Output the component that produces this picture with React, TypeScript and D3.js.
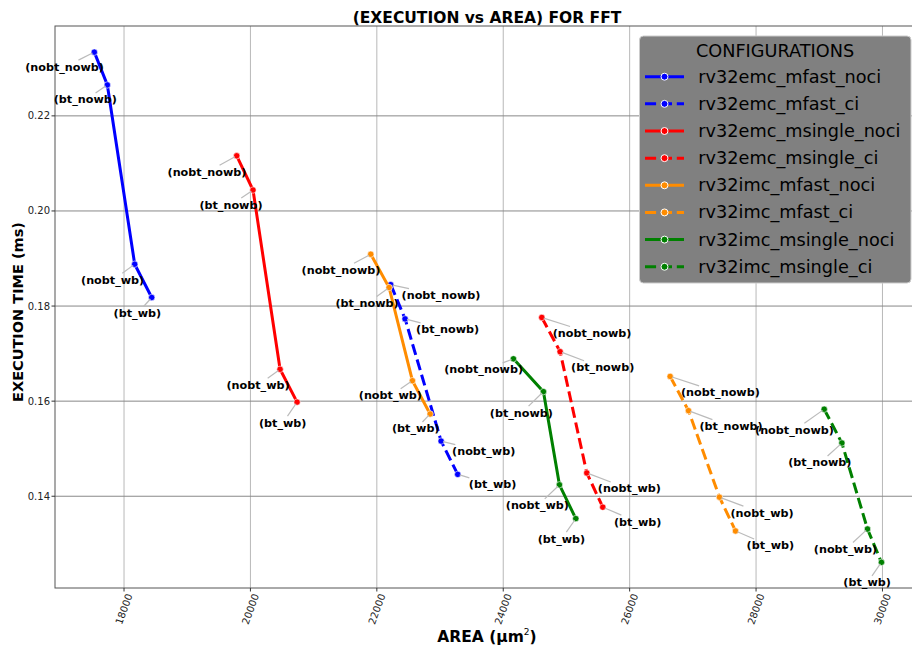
import React, { useEffect, useRef } from "react";
import * as d3 from "d3";

// point names, in the order they are drawn on each line
const pointLabels = ["nobt_nowb", "bt_nowb", "nobt_wb", "bt_wb"];

const configNames = [
  "rv32emc_mfast_noci",
  "rv32emc_mfast_ci",
  "rv32emc_msingle_noci",
  "rv32emc_msingle_ci",
  "rv32imc_mfast_noci",
  "rv32imc_mfast_ci",
  "rv32imc_msingle_noci",
  "rv32imc_msingle_ci",
];

const emcMfastNociArea = [17530, 17736, 18169, 18438];
const emcMfastNociTime = [0.2334, 0.2265, 0.1888, 0.1818];
const emcMfastCiArea = [22220, 22447, 23017, 23280];
const emcMfastCiTime = [0.1845, 0.1773, 0.1516, 0.1446];
const emcMsingleNociArea = [19783, 20041, 20469, 20738];
const emcMsingleNociTime = [0.2116, 0.2044, 0.1667, 0.1598];
const emcMsingleCiArea = [24610, 24900, 25322, 25575];
const emcMsingleCiTime = [0.1776, 0.1704, 0.1449, 0.1377];
const imcMfastNociArea = [21904, 22194, 22563, 22843];
const imcMfastNociTime = [0.1909, 0.1839, 0.1643, 0.1573];
const imcMfastCiArea = [26641, 26931, 27421, 27675];
const imcMfastCiTime = [0.1652, 0.158, 0.1398, 0.1327];
const imcMsingleNociArea = [24161, 24636, 24889, 25148];
const imcMsingleNociTime = [0.1689, 0.162, 0.1424, 0.1353];
const imcMsingleCiArea = [29078, 29358, 29763, 29984];
const imcMsingleCiTime = [0.1583, 0.1512, 0.1331, 0.1261];

const xTicks = [18000, 20000, 22000, 24000, 26000, 28000, 30000];
const yTicks = [0.14, 0.16, 0.18, 0.2, 0.22];

const colors = ["blue", "blue", "red", "red", "darkorange", "darkorange", "green", "green"];

// label placement: which side of the point, and text centre below the point (px)
const labelRight = [false, true, false, true, false, true, false, false];
const labelDy = [
  [15, 15, 16, 16],
  [11, 11, 10.5, 10.5],
  [16.5, 15, 16, 21],
  [16, 16, 16, 15],
  [16, 16, 15, 15],
  [16.5, 16, 16, 15],
  [11, 21.5, 21, 20.5],
  [21, 20, 20.5, 20.5],
];

const series = [
  [emcMfastNociArea, emcMfastNociTime],
  [emcMfastCiArea, emcMfastCiTime],
  [emcMsingleNociArea, emcMsingleNociTime],
  [emcMsingleCiArea, emcMsingleCiTime],
  [imcMfastNociArea, imcMfastNociTime],
  [imcMfastCiArea, imcMfastCiTime],
  [imcMsingleNociArea, imcMsingleNociTime],
  [imcMsingleCiArea, imcMsingleCiTime],
].map(([a, t], i) => ({
  name: configNames[i],
  color: colors[i],
  dashed: configNames[i].endsWith("_ci"),
  points: a.map((v, j) => ({ area: v, time: t[j], label: pointLabels[j] })),
}));

const FONT = "DejaVu Sans, sans-serif";

const App = () => {
  const ref = useRef<SVGSVGElement>(null);

  useEffect(() => {
    const svg = d3.select(ref.current);
    svg.selectAll("*").remove();

    const left = 55, right = 919, top = 26, bottom = 588;
    const x = d3.scaleLinear().domain([16908, 30578]).range([left, right]);
    const y = d3.scaleLinear().domain([0.1207, 0.2389]).range([bottom, top]);

    const ctx = document.createElement("canvas").getContext("2d")!;
    ctx.font = "bold 11px DejaVu Sans";

    // grid
    svg.append("g").selectAll("line").data(xTicks).join("line")
      .attr("x1", (d) => x(d)).attr("x2", (d) => x(d))
      .attr("y1", top).attr("y2", bottom)
      .attr("stroke", "#b8b8b8").attr("stroke-width", 1);
    svg.append("g").selectAll("line").data(yTicks).join("line")
      .attr("x1", left).attr("x2", right)
      .attr("y1", (d) => y(d)).attr("y2", (d) => y(d))
      .attr("stroke", "#888").attr("stroke-width", 1);

    // frame
    svg.append("rect")
      .attr("x", left).attr("y", top)
      .attr("width", right - left).attr("height", bottom - top)
      .attr("fill", "none").attr("stroke", "#555").attr("stroke-width", 1);

    // ticks
    const fmt = d3.format(".2f");
    const yAxis = svg.append("g");
    yTicks.forEach((t) => {
      yAxis.append("line").attr("x1", left - 3.5).attr("x2", left)
        .attr("y1", y(t)).attr("y2", y(t)).attr("stroke", "#333");
      yAxis.append("text").attr("x", left - 5).attr("y", y(t))
        .attr("text-anchor", "end").attr("dominant-baseline", "central")
        .attr("font-family", FONT).attr("font-size", 10).attr("fill", "#222")
        .text(fmt(t));
    });
    const xAxis = svg.append("g");
    xTicks.forEach((t) => {
      xAxis.append("line").attr("x1", x(t)).attr("x2", x(t))
        .attr("y1", bottom).attr("y2", bottom + 3.5).attr("stroke", "#333");
      xAxis.append("text")
        .attr("transform", `translate(${x(t)},609) rotate(-70)`)
        .attr("text-anchor", "middle").attr("dominant-baseline", "central")
        .attr("font-family", FONT).attr("font-size", 10).attr("fill", "#222")
        .text(String(t));
    });

    // lines and markers
    const line = d3.line<{ area: number; time: number }>()
      .x((d) => x(d.area)).y((d) => y(d.time));

    series.forEach((s, i) => {
      svg.append("path").datum(s.points)
        .attr("d", line)
        .attr("fill", "none").attr("stroke", s.color).attr("stroke-width", 3)
        .attr("stroke-dasharray", s.dashed ? "11.1,4.8" : null);
      svg.append("g").selectAll("circle").data(s.points).join("circle")
        .attr("cx", (d) => x(d.area)).attr("cy", (d) => y(d.time))
        .attr("r", 3.2).attr("fill", s.color)
        .attr("stroke", "white").attr("stroke-width", 0.6);

      // annotations
      s.points.forEach((p, j) => {
        const px = x(p.area), py = y(p.time);
        const txt = `(${p.label})`;
        const w = ctx.measureText(txt).width;
        const cx = labelRight[i] ? px + 11.5 + w / 2 : px + 9 - w / 2;
        const cy = py + labelDy[i][j];
        const dx = px - cx, dy = py - cy;
        const hw = w / 2 + 1, hh = 7;
        const tEdge = Math.min(Math.abs(dx) > 0 ? hw / Math.abs(dx) : 9, Math.abs(dy) > 0 ? hh / Math.abs(dy) : 9);
        const len = Math.hypot(dx, dy);
        const tEnd = 1 - 2 / len;
        if (tEdge < tEnd) {
          svg.append("line")
            .attr("x1", cx + dx * tEdge).attr("y1", cy + dy * tEdge)
            .attr("x2", cx + dx * tEnd).attr("y2", cy + dy * tEnd)
            .attr("stroke", "#bbbbbb").attr("stroke-width", 1.2);
        }
        svg.append("text").attr("x", cx).attr("y", cy)
          .attr("text-anchor", "middle").attr("dominant-baseline", "central")
          .attr("font-family", FONT).attr("font-weight", "bold").attr("font-size", 11.2)
          .attr("fill", "black").text(txt);
      });
    });

    // titles
    svg.append("text").attr("x", 487).attr("y", 23)
      .attr("text-anchor", "middle").attr("font-family", FONT)
      .attr("font-weight", "bold").attr("font-size", 15.5).text("(EXECUTION vs AREA) FOR FFT");
    const xl = svg.append("text").attr("x", 487).attr("y", 642)
      .attr("text-anchor", "middle").attr("font-family", FONT)
      .attr("font-weight", "bold").attr("font-size", 15.5);
    xl.append("tspan").text("AREA (μm");
    xl.append("tspan").attr("font-size", 9).attr("font-weight", "normal").attr("dy", -7).text("2");
    xl.append("tspan").attr("dy", 7).text(")");
    svg.append("text")
      .attr("transform", "translate(18,312) rotate(-90)")
      .attr("text-anchor", "middle").attr("dominant-baseline", "central")
      .attr("font-family", FONT).attr("font-weight", "bold").attr("font-size", 14.5)
      .text("EXECUTION TIME (ms)");

    // legend
    const lg = svg.append("g");
    lg.append("rect").attr("x", 639.5).attr("y", 36).attr("width", 271.5).attr("height", 247)
      .attr("rx", 4).attr("fill", "#808080").attr("stroke", "#cccccc");
    lg.append("text").attr("x", 775).attr("y", 51).attr("text-anchor", "middle")
      .attr("dominant-baseline", "central").attr("font-family", FONT)
      .attr("font-size", 17.7).attr("fill", "black").text("CONFIGURATIONS");
    series.forEach((s, i) => {
      const ry = 76.7 + i * 27.15;
      lg.append("line").attr("x1", 645).attr("x2", 684).attr("y1", ry).attr("y2", ry)
        .attr("stroke", s.color).attr("stroke-width", 3)
        .attr("stroke-dasharray", s.dashed ? "11.1,4.8" : null);
      lg.append("circle").attr("cx", 664.5).attr("cy", ry).attr("r", 3.5)
        .attr("fill", s.color).attr("stroke", "white").attr("stroke-width", 1);
      lg.append("text").attr("x", 698.3).attr("y", ry).attr("dominant-baseline", "central")
        .attr("font-family", FONT).attr("font-size", 17.7).attr("fill", "black").text(s.name);
    });
  }, []);

  return (
    <div style={{ position: "absolute", left: 0, top: 0 }}>
      <svg ref={ref} width={912} height={650} style={{ display: "block", background: "white" }} />
    </div>
  );
};

export default App;
